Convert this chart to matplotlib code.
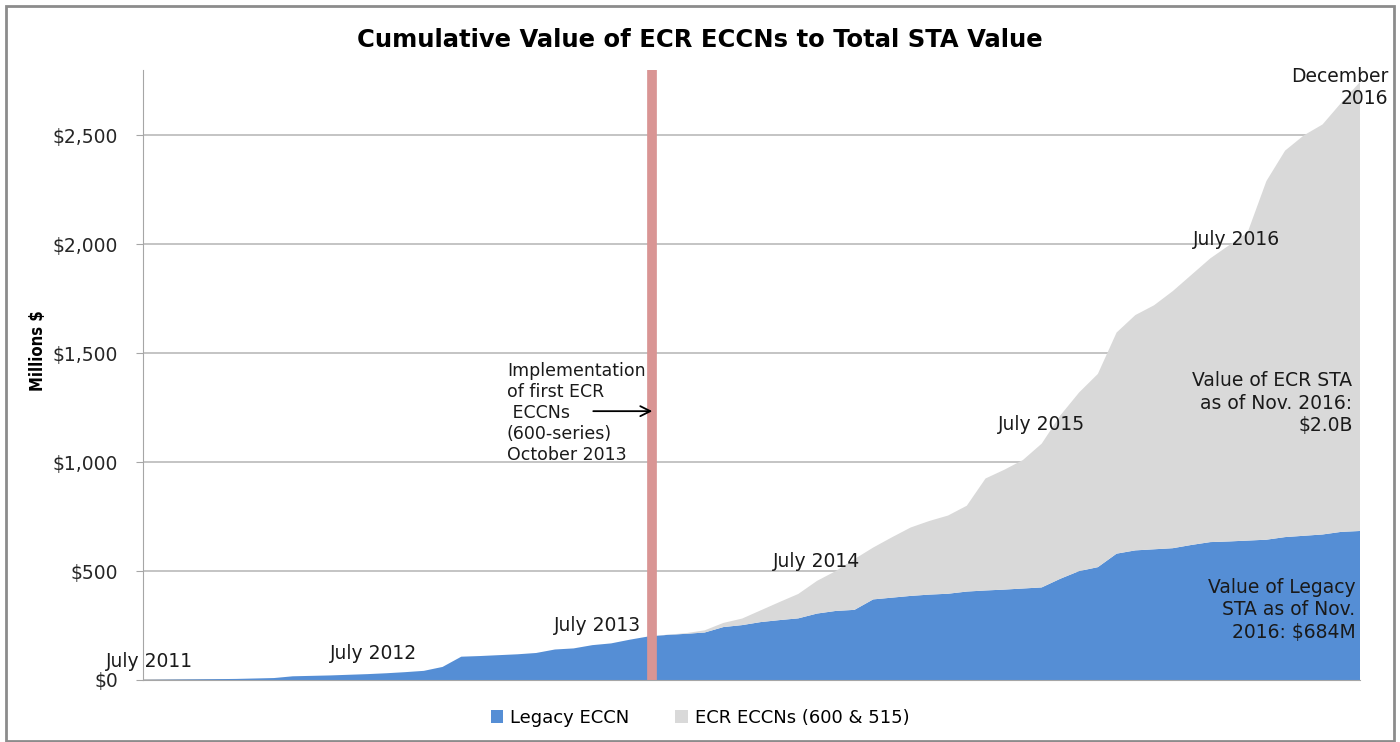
import matplotlib
matplotlib.use("Agg")
import matplotlib.pyplot as plt
from matplotlib.patches import Rectangle, Patch
import numpy as np

# Months from July 2011 (index 0) to December 2016 (index 65)
months = np.arange(66)

legacy = [0, 1, 2, 3, 4, 5, 7, 9, 17, 19, 21, 24, 27, 31, 36, 42,
          60, 107, 110, 114, 118, 124, 140, 145, 160, 168, 185, 200,
          207, 212, 218, 243, 252, 266, 275, 283, 305, 317, 322, 370,
          378, 386, 392, 396, 406, 411, 415, 420, 425, 465, 500, 518,
          580, 595, 600, 605, 620, 633, 636, 640, 644, 656, 662, 668,
          680, 684]

total = [0, 1, 2, 3, 4, 5, 7, 9, 17, 19, 21, 24, 27, 31, 36, 42,
         60, 107, 110, 114, 118, 124, 140, 145, 160, 168, 185, 200,
         208, 215, 228, 262, 282, 320, 358, 395, 455, 500, 555, 608,
         655, 700, 730, 755, 800, 925, 965, 1010, 1085, 1215, 1320, 1405,
         1595, 1675, 1720, 1785, 1860, 1935, 1995, 2055, 2290, 2430, 2500, 2550,
         2650, 2745]

ecr = [t - l for t, l in zip(total, legacy)]

series_names = ["Legacy ECCN", "ECR ECCNs (600 & 515)"]
yticks = [0, 500, 1000, 1500, 2000, 2500]
ytick_labels = ["$0", "$500", "$1,000", "$1,500", "$2,000", "$2,500"]

blue = "#558ed5"
gray = "#d9d9d9"

W, H = 1400, 742
fig = plt.figure(figsize=(W / 100, H / 100), dpi=100)
fig.patch.set_facecolor("white")

# outer frame
fig.patches.append(Rectangle((6 / W, 1 / H), 1388 / W, (H - 7) / H, transform=fig.transFigure,
                             fill=False, edgecolor="#8c8c8c", linewidth=2))

ax = fig.add_axes([143 / W, 1 - 680 / H, (1360 - 143) / W, (680 - 70) / H])
ax.stackplot(months, legacy, ecr, colors=[blue, gray], labels=series_names, linewidth=0)

ax.set_xlim(0, 65)
ax.set_ylim(0, 2800)
ax.set_yticks(yticks)
ax.set_yticklabels(ytick_labels, fontsize=13.5, color="#262626")
ax.set_xticks([])
ax.yaxis.grid(True, color="#bfbfbf", linewidth=1.3)
ax.set_axisbelow(True)
for s in ["top", "right"]:
    ax.spines[s].set_visible(False)
ax.spines["left"].set_color("#a6a6a6")
ax.spines["bottom"].set_color("#a6a6a6")
ax.spines["bottom"].set_zorder(5)
ax.tick_params(axis="y", length=5, color="#a6a6a6", pad=13)

ax.set_ylabel("Millions $", fontsize=12, fontweight="bold",
              family=["Liberation Sans Narrow", "DejaVu Sans"])
ax.yaxis.set_label_coords(-0.079, 0.54)
ax.yaxis.label.set_stretch("condensed")

# event line: October 2013
event_month = 27.2
ax.axvline(event_month, color="#d99594", linewidth=7, zorder=4)

lab_kw = dict(fontsize=13.5, color="#1a1a1a", ha="center", va="center")
ax.text(0.37, 83, "July 2011", **lab_kw)
ax.text(12.3, 120, "July 2012", **lab_kw)
ax.text(24.25, 249, "July 2013", **lab_kw)
ax.text(36.0, 543, "July 2014", **lab_kw)
ax.text(48.0, 1174, "July 2015", **lab_kw)
ax.text(58.4, 2021, "July 2016", **lab_kw)
ax.text(66.5, 2721, "December\n2016", fontsize=13.5, color="#1a1a1a", ha="right",
        va="center", multialignment="right", linespacing=1.2)
ax.text(64.6, 1271, "Value of ECR STA\nas of Nov. 2016:\n$2.0B", fontsize=13.5,
        color="#1a1a1a", ha="right", va="center", multialignment="right", linespacing=1.25)
ax.text(64.75, 322, "Value of Legacy\nSTA as of Nov.\n2016: $684M", fontsize=13.5,
        color="#1a1a1a", ha="right", va="center", multialignment="right", linespacing=1.25)
ax.text(19.44, 1225, "Implementation\nof first ECR\n ECCNs\n(600-series)\nOctober 2013",
        fontsize=12.5, color="#1a1a1a", ha="left", va="center", linespacing=1.22)
ax.annotate("", xy=(27.35, 1234), xytext=(23.9, 1234),
            arrowprops=dict(arrowstyle="->", color="black", lw=1.3, mutation_scale=18), zorder=6)

fig.text(0.5, 1 - 40 / H, "Cumulative Value of ECR ECCNs to Total STA Value",
         ha="center", va="center", fontsize=17.5, fontweight="bold",
         family=["DejaVu Sans"])

handles = [Patch(facecolor=blue, label=series_names[0]), Patch(facecolor=gray, label=series_names[1])]
fig.legend(handles=handles, loc="center", bbox_to_anchor=(0.5, 1 - 718 / H), ncol=2,
           frameon=False, fontsize=13, handlelength=0.7, handleheight=0.7,
           columnspacing=2.5, handletextpad=0.4)

fig.savefig("out.png", dpi=100)
